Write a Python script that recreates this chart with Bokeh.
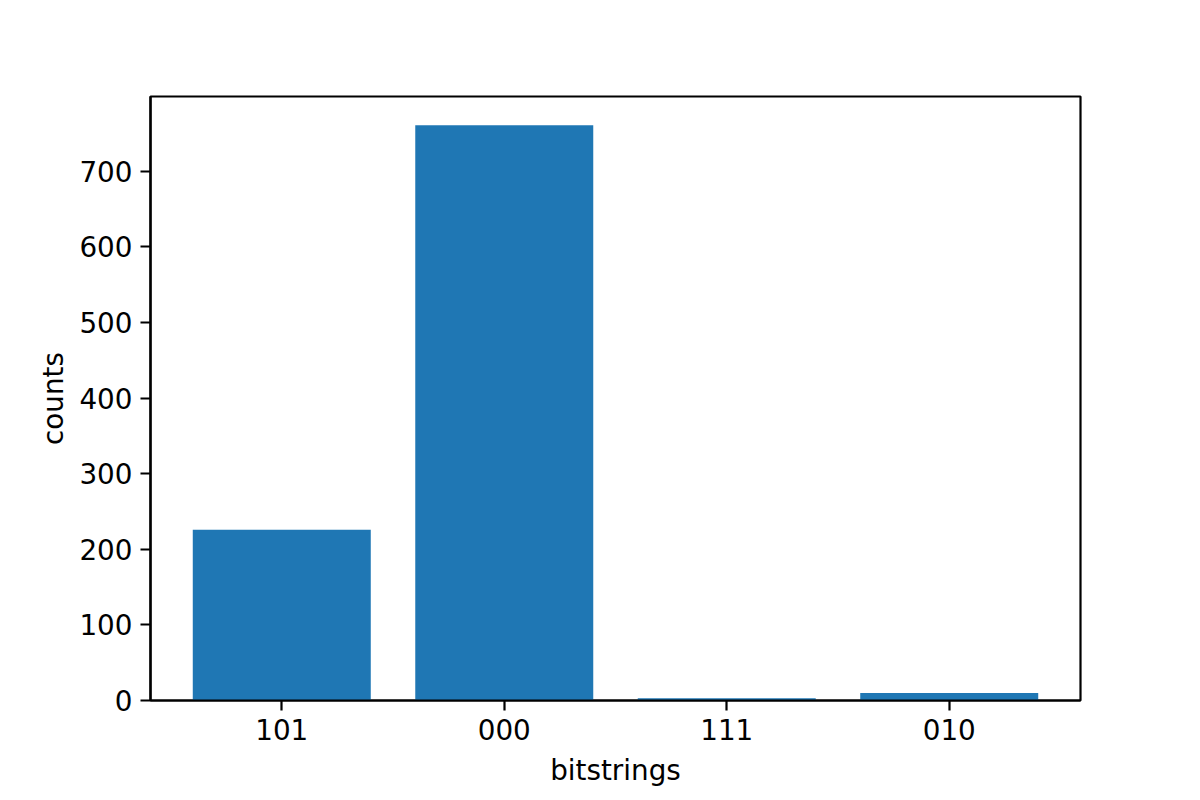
from bokeh.plotting import figure
from bokeh.models import Range1d, FixedTicker
from bokeh.embed import file_html
from bokeh.resources import INLINE

categories = ["101", "000", "111", "010"]
counts = [226, 761, 3, 10]
y_ticks = [0, 100, 200, 300, 400, 500, 600, 700]

positions = list(range(len(categories)))

p = figure(width=1200, height=800, output_backend="svg", toolbar_location=None,
           x_range=Range1d(-0.59, len(categories) - 1 + 0.59),
           y_range=Range1d(0, max(counts) * 1.05),
           min_border_left=150, min_border_right=120,
           min_border_top=96, min_border_bottom=100)

p.vbar(x=positions, top=counts, width=0.8, bottom=0,
       fill_color="#1f77b4", line_color=None)

p.xgrid.visible = False
p.ygrid.visible = False
p.outline_line_color = "black"
p.outline_line_width = 2.2
p.outline_line_alpha = 1.0
p.background_fill_color = "white"
p.border_fill_color = "white"

p.xaxis.ticker = FixedTicker(ticks=positions)
p.xaxis.major_label_overrides = {i: c for i, c in zip(positions, categories)}
p.yaxis.ticker = FixedTicker(ticks=y_ticks)

for ax in (p.xaxis, p.yaxis):
    ax.axis_line_width = 2.2
    ax.axis_line_color = "black"
    ax.major_tick_line_width = 2.2
    ax.major_tick_line_color = "black"
    ax.major_tick_out = 10
    ax.major_tick_in = 0
    ax.minor_tick_out = 0
    ax.minor_tick_in = 0
    ax.major_label_text_font = "DejaVu Sans"
    ax.major_label_text_font_size = "27.8px"
    ax.major_label_text_color = "black"
    ax.axis_label_text_font = "DejaVu Sans"
    ax.axis_label_text_font_size = "27.8px"
    ax.axis_label_text_font_style = "normal"
    ax.axis_label_text_color = "black"
    ax.major_label_standoff = 8

p.xaxis.axis_label = "bitstrings"
p.yaxis.axis_label = "counts"
p.xaxis.axis_label_standoff = 11
p.yaxis.axis_label_standoff = 6

open("out.html", "w").write(file_html(p, INLINE))
